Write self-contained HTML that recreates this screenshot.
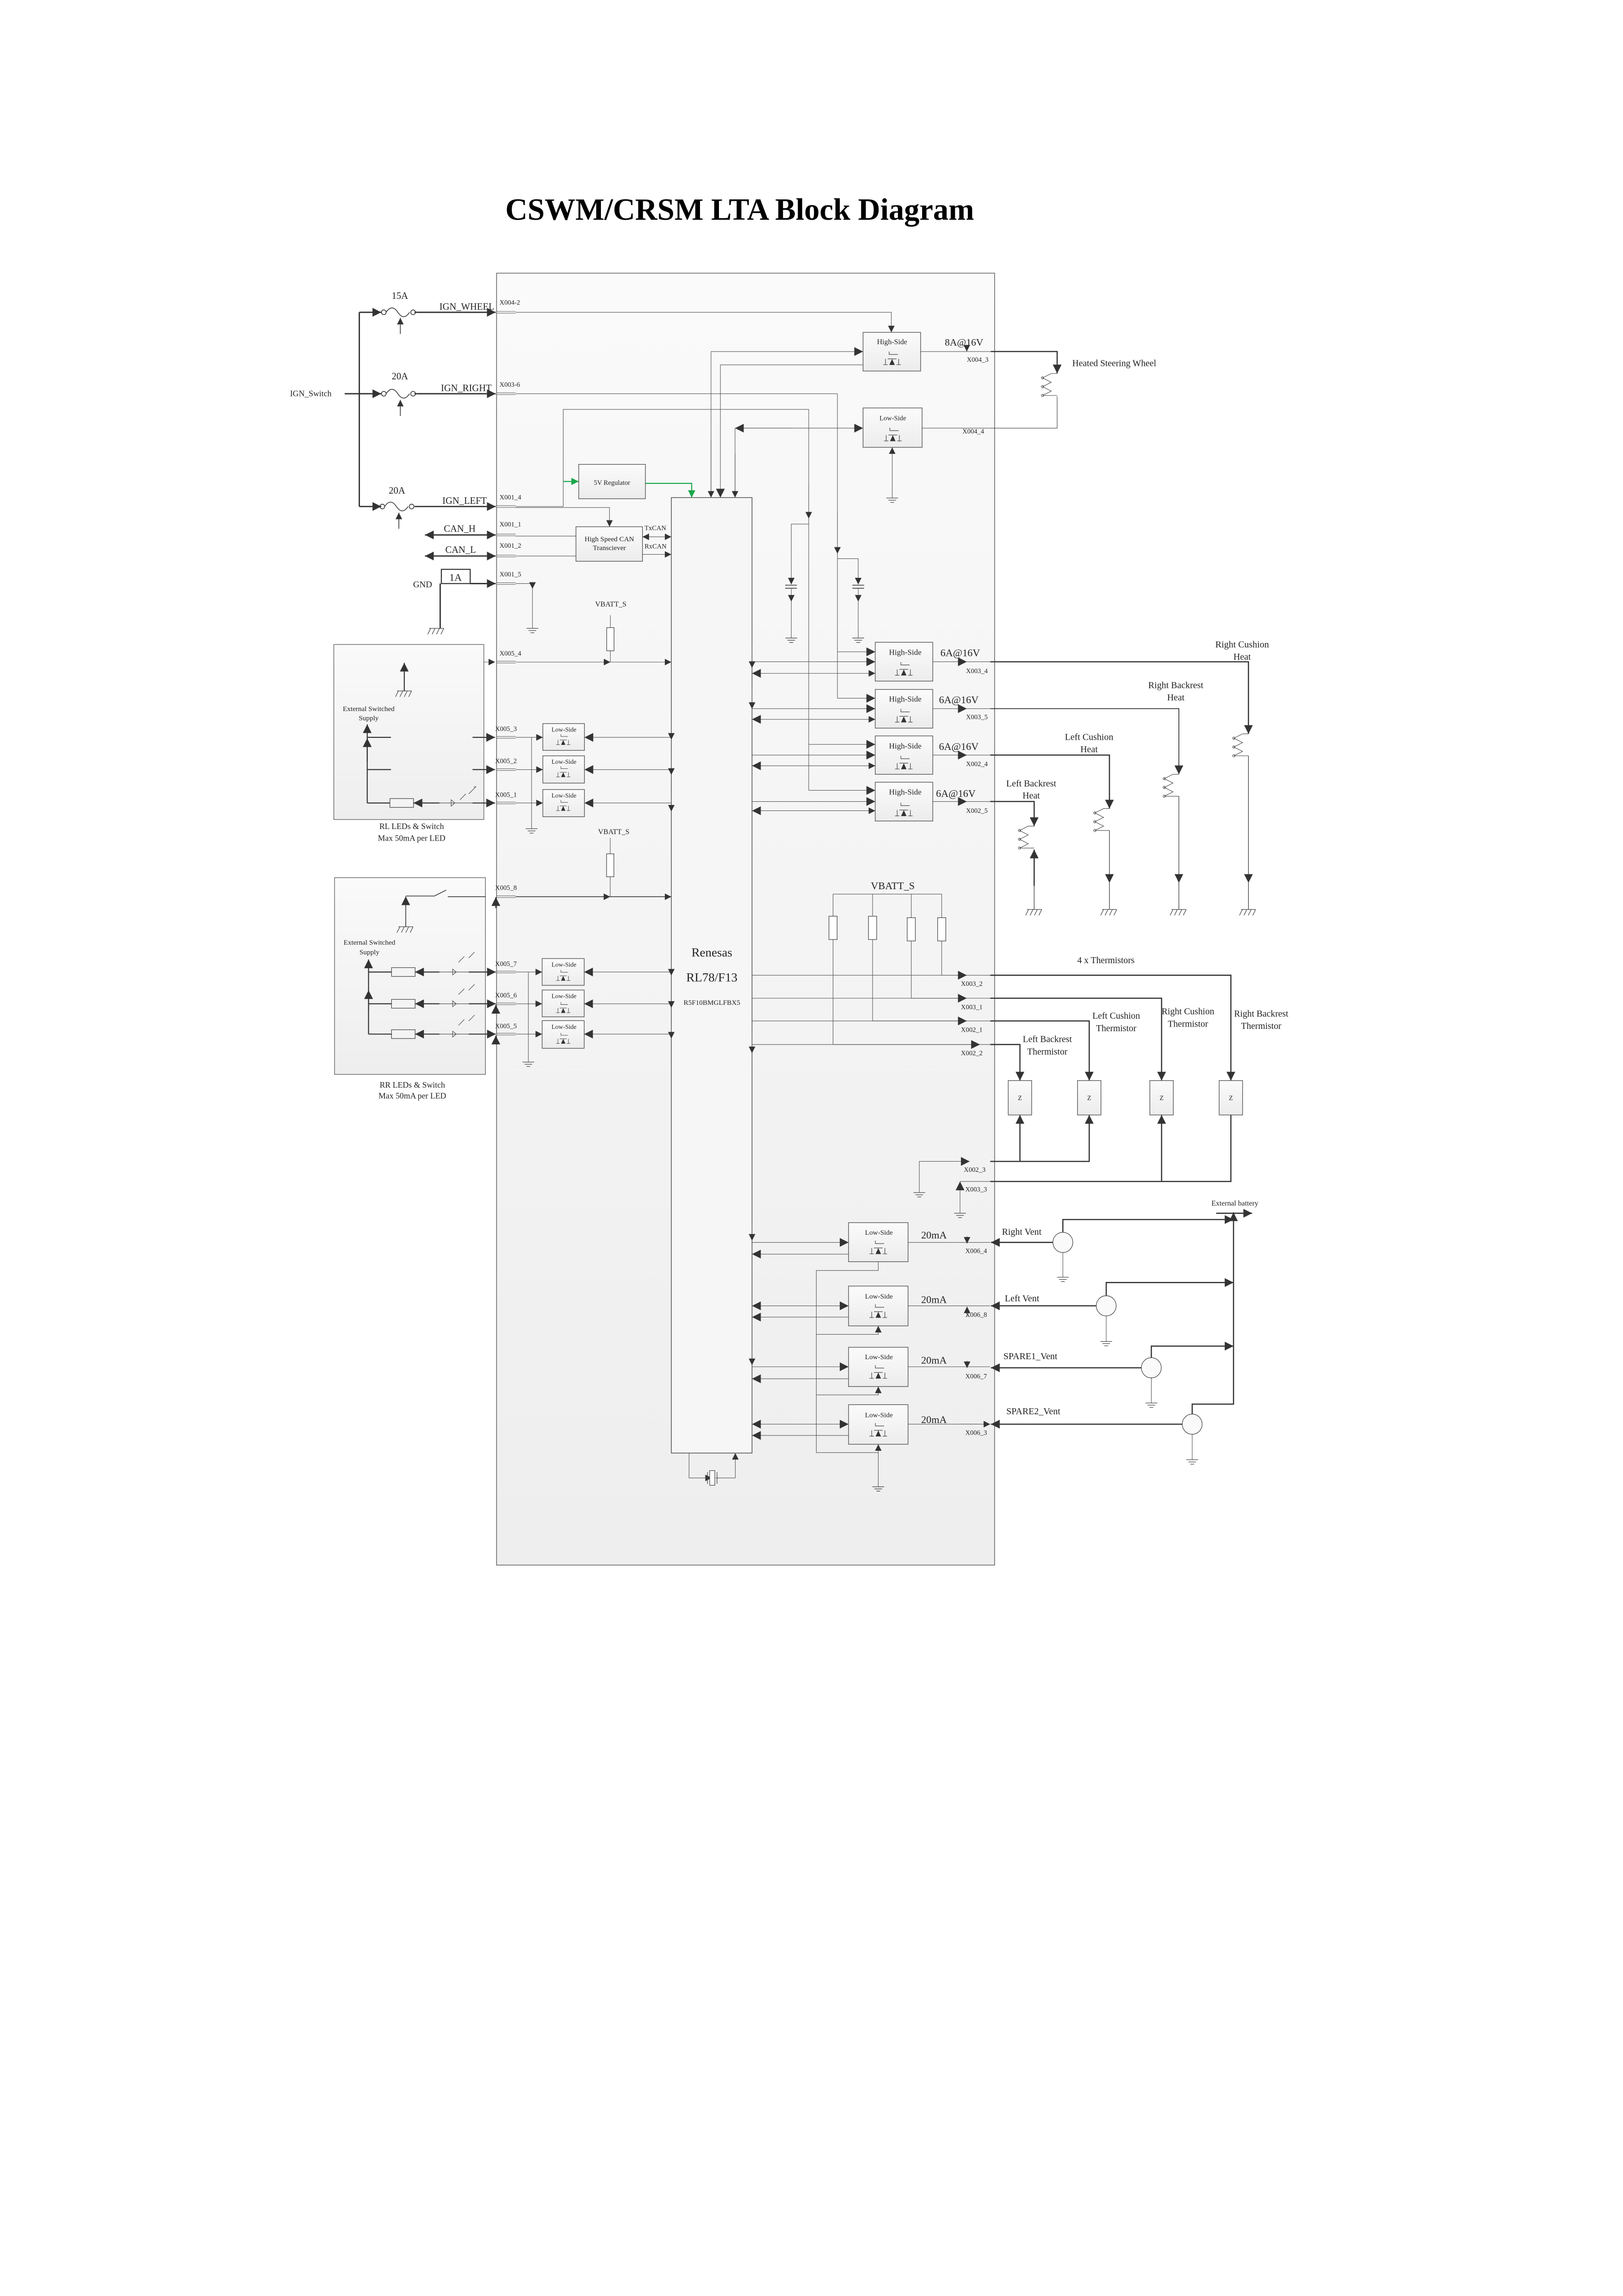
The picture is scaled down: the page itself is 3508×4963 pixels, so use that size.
<!DOCTYPE html>
<html><head><meta charset="utf-8"><style>html,body{margin:0;padding:0;background:#fff}svg{display:block}</style></head>
<body>
<svg xmlns="http://www.w3.org/2000/svg" width="3508" height="4963" viewBox="0 0 1108 1567.5" preserveAspectRatio="none" font-family="'Liberation Serif',serif" fill="none">
<defs>
<linearGradient id="bg" x1="0" y1="0" x2="0" y2="1"><stop offset="0" stop-color="#fafafa"/><stop offset="1" stop-color="#eeeeee"/></linearGradient>
<linearGradient id="bk" x1="0" y1="0" x2="0" y2="1"><stop offset="0" stop-color="#fbfbfb"/><stop offset="1" stop-color="#ececec"/></linearGradient>
<marker id="a" viewBox="0 0 10 10" refX="10" refY="5" markerWidth="4.5" markerHeight="4.5" markerUnits="userSpaceOnUse" orient="auto-start-reverse"><path d="M0,0L10,5L0,10z" fill="#333"/></marker>
<marker id="b" viewBox="0 0 10 10" refX="10" refY="5" markerWidth="6" markerHeight="6" markerUnits="userSpaceOnUse" orient="auto-start-reverse"><path d="M0,0L10,5L0,10z" fill="#333"/></marker>
<marker id="g" viewBox="0 0 10 10" refX="10" refY="5" markerWidth="5" markerHeight="5" markerUnits="userSpaceOnUse" orient="auto"><path d="M0,0L10,5L0,10z" fill="#1aa64a"/></marker>
<g id="gnd" stroke="#444" stroke-width=".4"><path d="M-4,0h8M-2.6,1.5h5.2M-1.3,3h2.6"/></g>
<g id="hat" stroke="#444" stroke-width=".4"><path d="M-5,0h10M-4,0l-2,4M-1,0l-2,4M2,0l-2,4M5,0l-2,4"/></g>
<g id="fet" stroke="#333" stroke-width=".35"><path d="M-2,-6v2h6M-6,3h3M-4.5,-1v4M3,3h3M4.5,-1v4M-3,-1h6"/><path d="M-1.6,3L0,-0.5L1.6,3z" fill="#333"/></g>
<g id="coil" stroke="#444" stroke-width=".35"><path d="M0,0h-4l-6,3l6,3l-6,3l6,3l-6,3h10"/><circle cx="-10" cy="3" r=".8"/><circle cx="-10" cy="9" r=".8"/><circle cx="-10" cy="15" r=".8"/></g>
<g id="fuse" stroke="#333" stroke-width=".5"><circle cx="0" cy="0" r="1.6"/><circle cx="20" cy="0" r="1.6"/><path d="M1.6,0q4,-6 8,0t8,0"/></g>
</defs>

<text x="505" y="150" font-size="21" font-weight="bold" fill="#000" text-anchor="middle" textLength="320" lengthAdjust="spacingAndGlyphs">CSWM/CRSM LTA Block Diagram</text>

<rect x="339" y="186.5" width="340" height="882" fill="url(#bg)" stroke="#666" stroke-width=".5"/>
<rect x="458.3" y="339.7" width="55.1" height="652.3" fill="#f6f6f6" stroke="#444" stroke-width=".45"/>
<text x="486" y="653" font-size="8.5" fill="#222" text-anchor="middle">Renesas</text>
<text x="486" y="670" font-size="8.5" fill="#222" text-anchor="middle">RL78/F13</text>
<text x="486" y="686" font-size="4.8" fill="#222" text-anchor="middle">R5F10BMGLFBX5</text>

<g fill="#222" font-size="6.5">
<text x="273" y="204" text-anchor="middle">15A</text>
<text x="273" y="259" text-anchor="middle">20A</text>
<text x="271" y="337" text-anchor="middle">20A</text>
<text x="300" y="211.5">IGN_WHEEL</text>
<text x="301" y="267">IGN_RIGHT</text>
<text x="302" y="344">IGN_LEFT</text>
<text x="198" y="270.5" font-size="5.6">IGN_Switch</text>
<text x="303" y="363">CAN_H</text>
<text x="304" y="377.5">CAN_L</text>
<text x="282" y="401" font-size="6">GND</text>
<text x="311" y="396.5" text-anchor="middle" font-size="7">1A</text>
</g>
<g fill="#222" font-size="4.6">
<text x="341" y="208">X004-2</text>
<text x="341" y="264">X003-6</text>
<text x="341" y="341">X001_4</text>
<text x="341" y="359.5">X001_1</text>
<text x="341" y="374">X001_2</text>
<text x="341" y="393.5">X001_5</text>
<text x="440" y="362">TxCAN</text>
<text x="440" y="374.5">RxCAN</text>
<text x="341" y="447.5">X005_4</text>
<text x="338" y="499">X005_3</text>
<text x="338" y="521">X005_2</text>
<text x="338" y="544">X005_1</text>
<text x="338" y="607.5">X005_8</text>
<text x="338" y="659.5">X005_7</text>
<text x="338" y="681">X005_6</text>
<text x="338" y="702">X005_5</text>
</g>

<g stroke="#333" stroke-width=".9">
<path d="M245.3,213.2V345.8M235.3,268.8h10"/>
<path d="M245.3,213.2h15" marker-end="url(#b)"/>
<path d="M245.3,268.8h15" marker-end="url(#b)"/>
<path d="M245.3,345.8h15" marker-end="url(#b)"/>
<path d="M283,213.2H338.4" marker-end="url(#b)"/>
<path d="M283,268.8H338.4" marker-end="url(#b)"/>
<path d="M283,345.8H338.4" marker-end="url(#b)"/>
<path d="M273.3,228V217" marker-end="url(#a)" stroke-width=".5"/>
<path d="M273.3,284V273" marker-end="url(#a)" stroke-width=".5"/>
<path d="M272.3,361V350" marker-end="url(#a)" stroke-width=".5"/>
<path d="M290.1,365.2H338.4" marker-start="url(#b)" marker-end="url(#b)"/>
<path d="M290.1,379.6H338.4" marker-start="url(#b)" marker-end="url(#b)"/>
<path d="M300.5,398.4V429M321,398.4H338.4" marker-end="url(#b)"/>
</g>
<use href="#fuse" x="262" y="213.2"/><use href="#fuse" x="262" y="268.8"/><use href="#fuse" x="261" y="345.8"/>
<rect x="301.3" y="388.7" width="19.7" height="9.7" fill="#fff" stroke="#333" stroke-width=".7"/>
<text x="311" y="396.5" text-anchor="middle" font-size="7" fill="#222">1A</text>
<use href="#hat" x="298" y="429"/>

<g stroke="#666" stroke-width=".35">
<path d="M339,212.6h13M339,213.8h13M339,268.2h13M339,269.4h13M339,345.2h13M339,346.4h13M339,364.6h13M339,365.8h13M339,379h13M339,380.2h13M339,397.8h13M339,399h13M339,451.4h13M339,452.6h13"/>
<path d="M339,502.8h13M339,504h13M339,524.8h13M339,526h13M339,547.6h13M339,548.8h13M339,611.6h13M339,612.8h13M339,663h13M339,664.2h13M339,684.7h13M339,685.9h13M339,705.4h13M339,706.6h13"/>
</g>

<g stroke="#555" stroke-width=".35">
<path d="M352,213.2H608.5V226.9" marker-end="url(#a)"/>
<path d="M352,268.8H571.7V476.7"/>
<path d="M571.7,350v28" marker-end="url(#a)"/>
<path d="M571.7,381.4H585.9V399" marker-end="url(#a)"/>
<path d="M352,345.8H384.5V279.5H552.1V539.6"/>
<path d="M552.1,330v24" marker-end="url(#a)"/>
<path d="M552.1,357.8H540.2V399" marker-end="url(#a)"/>
<path d="M540.2,402V410.7" marker-end="url(#a)"/><path d="M585.9,402V410.7" marker-end="url(#a)"/>
<path d="M540.2,410.7V435.6M585.9,410.7V435.6"/>
<path d="M536,399.5h8M536,401.6h8M581.9,399.5h8M581.9,401.6h8" stroke="#333" stroke-width=".5"/>
<path d="M485.4,339.7V240H589.2" marker-end="url(#b)"/>
<path d="M485.4,300V339.7" marker-end="url(#a)"/>
<path d="M589.2,249.1H491.8V339.7" marker-end="url(#b)"/>
<path d="M501.8,339.7V292.3H589.2" marker-end="url(#b)"/>
<path d="M540,292.3H501.8" marker-end="url(#b)"/>
<path d="M501.8,310V339.7" marker-end="url(#a)"/>
<path d="M609.1,340V305.4" marker-end="url(#a)"/>
<path d="M628.5,240H676.4M629.5,292.3H676.4"/>
<path d="M352,346.5H416.1V359.6" marker-end="url(#a)"/>
<path d="M352,366H393.2M352,379.6H393.2"/>
<path d="M438.6,366.5H458.3" marker-start="url(#a)" marker-end="url(#a)"/>
<path d="M438.6,378.5H458.3" marker-end="url(#a)"/>
<path d="M352,398.4H363.5V402" marker-end="url(#a)"/>
<path d="M363.5,402V429"/>
<path d="M416.7,420V452"/>
<path d="M322.6,452H338" marker-end="url(#a)"/>
<path d="M352,452H416.7" marker-end="url(#a)"/>
<path d="M416.7,452H458.3" marker-end="url(#a)"/>
</g>
<use href="#gnd" x="540.2" y="435.6"/><use href="#gnd" x="585.9" y="435.6"/><use href="#gnd" x="609.1" y="340"/><use href="#gnd" x="363.5" y="429"/>
<path d="M384.5,328.7H395" stroke="#1aa64a" stroke-width=".7" marker-end="url(#g)"/>
<path d="M440.6,330H472.2V339.7" stroke="#1aa64a" stroke-width=".7" marker-end="url(#g)"/>
<rect x="395.1" y="317" width="45.5" height="23.5" fill="url(#bk)" stroke="#444" stroke-width=".4"/>
<text x="417.8" y="331" font-size="4.6" fill="#222" text-anchor="middle">5V Regulator</text>
<rect x="393.2" y="359.6" width="45.4" height="23.6" fill="url(#bk)" stroke="#444" stroke-width=".4"/>
<text x="416" y="369.5" font-size="4.8" fill="#222" text-anchor="middle">High Speed CAN</text>
<text x="416" y="375.5" font-size="4.8" fill="#222" text-anchor="middle">Transciever</text>
<text x="417" y="414" font-size="5" fill="#222" text-anchor="middle">VBATT_S</text>
<rect x="414.2" y="428.5" width="5" height="15.8" fill="#fff" stroke="#444" stroke-width=".4"/>

<rect x="589.2" y="226.9" width="39.3" height="26.4" fill="url(#bk)" stroke="#444" stroke-width=".4"/>
<text x="609" y="235" font-size="5" fill="#222" text-anchor="middle">High-Side</text>
<use href="#fet" x="609" y="246"/>
<rect x="589.2" y="278.5" width="40.3" height="26.9" fill="url(#bk)" stroke="#444" stroke-width=".4"/>
<text x="609.5" y="287" font-size="4.6" fill="#222" text-anchor="middle">Low-Side</text>
<use href="#fet" x="609.5" y="298"/>
<text x="645" y="236" font-size="6.8" fill="#222">8A@16V</text>
<text x="660" y="247" font-size="4.6" fill="#222">X004_3</text>
<text x="657" y="296" font-size="4.6" fill="#222">X004_4</text>
<path d="M660,236v4" stroke="#333" stroke-width=".4" marker-end="url(#a)"/>
<g stroke="#333" stroke-width=".8"><path d="M676.4,240H721.7V254.9" marker-end="url(#b)"/></g>
<path d="M721.7,270.6V292.3H676.4" stroke="#555" stroke-width=".4"/>
<use href="#coil" x="721.7" y="255"/>
<text x="732" y="250" font-size="6.2" fill="#222">Heated Steering Wheel</text>

<g stroke="#555" stroke-width=".35">
<path d="M571.7,445H597.5" marker-end="url(#b)"/>
<path d="M571.7,476.7H597.5" marker-end="url(#b)"/>
<path d="M552.1,508.2H597.5" marker-end="url(#b)"/>
<path d="M552.1,539.6H597.5" marker-end="url(#b)"/>
<path d="M513.4,451.8H597.5" marker-end="url(#b)"/>
<path d="M513.4,459.7H597.5" marker-start="url(#b)" marker-end="url(#a)"/>
<path d="M513.4,483.8H597.5" marker-end="url(#b)"/>
<path d="M513.4,491.1H597.5" marker-start="url(#b)" marker-end="url(#a)"/>
<path d="M513.4,515.5H597.5" marker-end="url(#b)"/>
<path d="M513.4,522.8H597.5" marker-start="url(#b)" marker-end="url(#a)"/>
<path d="M513.4,547.2H597.5" marker-end="url(#b)"/>
<path d="M513.4,553.5H597.5" marker-start="url(#b)" marker-end="url(#a)"/>
<path d="M636.8,451.8H660" marker-end="url(#b)"/><path d="M660,451.8H676"/>
<path d="M636.8,483.8H660" marker-end="url(#b)"/><path d="M660,483.8H676"/>
<path d="M636.8,515.5H660" marker-end="url(#b)"/><path d="M660,515.5H676"/>
<path d="M636.8,547.2H660" marker-end="url(#b)"/><path d="M660,547.2H676"/>
<path d="M513.4,440v16" marker-end="url(#a)"/><path d="M513.4,470v14" marker-end="url(#a)"/>
</g>
<g>
<rect x="597.5" y="438.5" width="39.3" height="26.5" fill="url(#bk)" stroke="#444" stroke-width=".4"/>
<rect x="597.5" y="470.7" width="39.3" height="26.4" fill="url(#bk)" stroke="#444" stroke-width=".4"/>
<rect x="597.5" y="502.4" width="39.3" height="26.2" fill="url(#bk)" stroke="#444" stroke-width=".4"/>
<rect x="597.5" y="534" width="39.3" height="26.5" fill="url(#bk)" stroke="#444" stroke-width=".4"/>
</g>
<g font-size="5.4" fill="#222" text-anchor="middle">
<text x="618" y="447">High-Side</text><text x="618" y="479">High-Side</text><text x="618" y="511">High-Side</text><text x="618" y="542.5">High-Side</text>
</g>
<use href="#fet" x="617" y="458"/><use href="#fet" x="617" y="490"/><use href="#fet" x="617" y="522"/><use href="#fet" x="617" y="554"/>
<g font-size="7" fill="#222">
<text x="642" y="448">6A@16V</text><text x="641" y="480">6A@16V</text><text x="641" y="512">6A@16V</text><text x="639" y="544">6A@16V</text>
</g>
<g font-size="4.6" fill="#222">
<text x="659.5" y="459.5">X003_4</text><text x="659.5" y="491">X003_5</text><text x="659.5" y="523">X002_4</text><text x="659.5" y="555">X002_5</text>
</g>
<g stroke="#333" stroke-width=".8">
<path d="M676,451.8H852.3V501" marker-end="url(#b)"/>
<path d="M676,515.5H757.4V552" marker-end="url(#b)"/>
<path d="M676,547.2H706V564" marker-end="url(#b)"/>
<path d="M706,604.8V580" marker-end="url(#b)"/>
</g>
<path d="M676,483.8H804.8V528.6" stroke="#333" stroke-width=".55" marker-end="url(#b)"/>
<use href="#coil" x="852.3" y="501"/><use href="#coil" x="804.8" y="528.6"/><use href="#coil" x="757.4" y="552"/><use href="#coil" x="706" y="564"/>
<g stroke="#333" stroke-width=".4">
<path d="M852.3,516V602.7" marker-end="url(#b)"/>
<path d="M804.8,543.6V602.7" marker-end="url(#b)"/>
<path d="M757.4,567V602.7" marker-end="url(#b)"/>
<path d="M852.3,602.7V620.9M804.8,602.7V620.9M757.4,602.7V620.9M706,604.8V620.9"/>
</g>
<use href="#hat" x="852.2" y="620.9"/><use href="#hat" x="804.8" y="620.9"/><use href="#hat" x="757.4" y="620.9"/><use href="#hat" x="706.2" y="620.9"/>
<g font-size="6.3" fill="#222" text-anchor="middle">
<text x="848" y="442">Right Cushion</text><text x="848" y="450.4">Heat</text>
<text x="802.7" y="469.8">Right Backrest</text><text x="802.7" y="478.2">Heat</text>
<text x="743.5" y="505.2">Left Cushion</text><text x="743.5" y="513.5">Heat</text>
<text x="704" y="536.9">Left Backrest</text><text x="704" y="545.2">Heat</text>
</g>

<rect x="227.9" y="440" width="102.4" height="119.5" fill="url(#bg)" stroke="#666" stroke-width=".45"/>
<text x="251.7" y="485.5" font-size="4.8" fill="#222" text-anchor="middle">External Switched</text>
<text x="251.7" y="491.8" font-size="4.8" fill="#222" text-anchor="middle">Supply</text>
<text x="281" y="566" font-size="5.6" fill="#222" text-anchor="middle">RL LEDs &amp; Switch</text>
<text x="281" y="574" font-size="5.6" fill="#222" text-anchor="middle">Max 50mA per LED</text>
<use href="#hat" x="276" y="471.7"/>
<g stroke="#333" stroke-width=".7">
<path d="M276,471.7V452.5" marker-end="url(#b)"/>
<path d="M250.7,548.2V494.5" marker-end="url(#b)"/>
<path d="M250.7,520V504" marker-end="url(#b)"/>
<path d="M250.7,503.4H266.9M250.7,525.4H266.9M250.7,548.2H266.2"/>
<path d="M322.6,503.4H338" marker-end="url(#b)"/>
<path d="M322.6,525.4H338" marker-end="url(#b)"/>
<path d="M322.6,548.2H338" marker-end="url(#b)"/>
<path d="M300,548.2H282.3" marker-end="url(#b)"/>
</g>
<rect x="266.2" y="545.2" width="16.1" height="6" fill="#f4f4f4" stroke="#444" stroke-width=".4"/>
<g stroke="#444" stroke-width=".35"><path d="M300,548.2h30M308,546v4.4l2.5,-2.2zM320,542l5,-5M325,537l-1.5,.3M314,546l4,-4"/></g>
<g stroke="#555" stroke-width=".35">
<path d="M352,503.4H370.6" marker-end="url(#a)"/>
<path d="M352,525.4H370.6" marker-end="url(#a)"/>
<path d="M352,548.2H370.6" marker-end="url(#a)"/>
<path d="M458.3,503.4H399" marker-end="url(#b)"/>
<path d="M458.3,525.4H399" marker-end="url(#b)"/>
<path d="M458.3,548.2H399" marker-end="url(#b)"/>
<path d="M362.9,503.4V565.8"/>
<path d="M458.3,490v15" marker-end="url(#a)"/><path d="M458.3,515v14" marker-end="url(#a)"/><path d="M458.3,540v14" marker-end="url(#a)"/>
</g>
<use href="#gnd" x="362.9" y="565.8"/>
<rect x="370.6" y="494" width="28.4" height="18.3" fill="url(#bk)" stroke="#444" stroke-width=".4"/>
<rect x="370.6" y="516" width="28.4" height="18.6" fill="url(#bk)" stroke="#444" stroke-width=".4"/>
<rect x="370.6" y="539" width="28.4" height="18.6" fill="url(#bk)" stroke="#444" stroke-width=".4"/>
<use href="#fet" x="384.5" y="506" transform="translate(384.5 506) scale(.8) translate(-384.5 -506)"/>
<use href="#fet" x="384.5" y="528" transform="translate(384.5 528) scale(.8) translate(-384.5 -528)"/>
<use href="#fet" x="384.5" y="551" transform="translate(384.5 551) scale(.8) translate(-384.5 -551)"/>

<text x="419" y="569.5" font-size="5" fill="#222" text-anchor="middle">VBATT_S</text>
<path d="M416.6,572V612.2" stroke="#555" stroke-width=".35"/>
<rect x="414.1" y="582.9" width="5" height="15.7" fill="#fff" stroke="#444" stroke-width=".4"/>
<path d="M352,612.2H416.6" stroke="#333" stroke-width=".5" marker-end="url(#a)"/>
<path d="M416.6,612.2H458.3" stroke="#333" stroke-width=".5" marker-end="url(#a)"/>

<rect x="228.4" y="599.2" width="103" height="134.3" fill="url(#bg)" stroke="#666" stroke-width=".45"/>
<text x="252.2" y="645" font-size="4.8" fill="#222" text-anchor="middle">External Switched</text>
<text x="252.2" y="651.5" font-size="4.8" fill="#222" text-anchor="middle">Supply</text>
<text x="281.5" y="742.5" font-size="5.6" fill="#222" text-anchor="middle">RR LEDs &amp; Switch</text>
<text x="281.5" y="750" font-size="5.6" fill="#222" text-anchor="middle">Max 50mA per LED</text>
<use href="#hat" x="277" y="632.7"/>
<g stroke="#333" stroke-width=".5">
<path d="M277,632.7V612" marker-end="url(#b)"/>
<path d="M277,611.7H296.6l8,-4M305.7,612.2H331.4"/>
</g>
<g stroke="#333" stroke-width=".7">
<path d="M251.6,706V655" marker-end="url(#b)"/>
<path d="M251.6,690V676" marker-end="url(#b)"/>
<path d="M251.6,663.6H267.3M251.6,685.3H267.3M251.6,706H267.3"/>
<path d="M300,663.6H283.4" marker-end="url(#b)"/>
<path d="M300,685.3H283.4" marker-end="url(#b)"/>
<path d="M300,706H283.4" marker-end="url(#b)"/>
<path d="M320,663.6H338.5" marker-end="url(#b)"/>
<path d="M320,685.3H338.5" marker-end="url(#b)"/>
<path d="M320,706H338.5" marker-end="url(#b)"/>
<path d="M338.5,620V612.5" marker-end="url(#b)"/>
<path d="M338.5,690V686" marker-end="url(#b)"/>
<path d="M338.5,712V707" marker-end="url(#b)"/>
</g>
<g fill="#f4f4f4" stroke="#444" stroke-width=".4">
<rect x="267.3" y="660.6" width="16.1" height="6"/><rect x="267.3" y="682.3" width="16.1" height="6"/><rect x="267.3" y="703" width="16.1" height="6"/>
</g>
<g stroke="#444" stroke-width=".35"><path d="M300,663.6h20M300,685.3h20M300,706h20M309,661.6v4l2.5,-2zM309,683.3v4l2.5,-2zM309,704v4l2.5,-2zM313,657l4,-4M320,654l4,-4M313,679l4,-4M320,676l4,-4M313,700l4,-4M320,697l4,-4"/></g>
<g stroke="#555" stroke-width=".35">
<path d="M352,663.6H370.1" marker-end="url(#a)"/>
<path d="M352,685.3H370.1" marker-end="url(#a)"/>
<path d="M352,706H370.1" marker-end="url(#a)"/>
<path d="M458.3,663.6H398.8" marker-end="url(#b)"/>
<path d="M458.3,685.3H398.8" marker-end="url(#b)"/>
<path d="M458.3,706H398.8" marker-end="url(#b)"/>
<path d="M360.7,663.6V725.1"/>
<path d="M458.3,655v11" marker-end="url(#a)"/><path d="M458.3,678v10" marker-end="url(#a)"/><path d="M458.3,699v10" marker-end="url(#a)"/>
</g>
<use href="#gnd" x="360.7" y="725.1"/>
<rect x="370.1" y="654.4" width="28.7" height="18.3" fill="url(#bk)" stroke="#444" stroke-width=".4"/>
<rect x="370.1" y="675.9" width="28.7" height="18.3" fill="url(#bk)" stroke="#444" stroke-width=".4"/>
<rect x="370.1" y="696.8" width="28.7" height="18.9" fill="url(#bk)" stroke="#444" stroke-width=".4"/>
<use href="#fet" x="384.5" y="667" transform="translate(384.5 667) scale(.8) translate(-384.5 -667)"/>
<use href="#fet" x="384.5" y="689" transform="translate(384.5 689) scale(.8) translate(-384.5 -689)"/>
<use href="#fet" x="384.5" y="710" transform="translate(384.5 710) scale(.8) translate(-384.5 -710)"/>
<g font-size="4.3" fill="#222" text-anchor="middle"><text x="385" y="499.5">Low-Side</text><text x="385" y="521.5">Low-Side</text><text x="385" y="544.5">Low-Side</text>
<text x="385" y="660">Low-Side</text><text x="385" y="681.5">Low-Side</text><text x="385" y="702.5">Low-Side</text></g>

<text x="609.5" y="607" font-size="7" fill="#222" text-anchor="middle">VBATT_S</text>
<g stroke="#555" stroke-width=".35">
<path d="M568.7,610.4H642.9M568.7,610.4V713.1M595.7,610.4V697M622.1,610.4V681.5M642.9,610.4V665.8"/>
<path d="M513.4,665.8H676M513.4,681.5H676M513.4,697H676M513.4,713.1H676"/>
<path d="M642.9,665.8H660" marker-end="url(#b)"/>
<path d="M622.1,681.5H660" marker-end="url(#b)"/>
<path d="M595.7,697H660" marker-end="url(#b)"/>
<path d="M568.7,713.1H669" marker-end="url(#b)"/>
<path d="M513.4,705v14" marker-end="url(#a)"/>
</g>
<g fill="#fff" stroke="#444" stroke-width=".4">
<rect x="565.9" y="625.5" width="5.6" height="15.9"/><rect x="592.9" y="625.5" width="5.6" height="15.9"/><rect x="619.3" y="626.5" width="5.6" height="15.9"/><rect x="640.1" y="626.5" width="5.6" height="15.9"/>
</g>
<g font-size="4.6" fill="#222">
<text x="656" y="673">X003_2</text><text x="656" y="689">X003_1</text><text x="656" y="704.5">X002_1</text><text x="656" y="720.5">X002_2</text>
<text x="658" y="800">X002_3</text><text x="659" y="813.5">X003_3</text>
</g>
<g stroke="#333" stroke-width=".8">
<path d="M676,665.8H840.3V737.7" marker-end="url(#b)"/>
<path d="M676,681.5H793V737.7" marker-end="url(#b)"/>
<path d="M676,697H743.6V737.7" marker-end="url(#b)"/>
<path d="M676,713.1H696.3V737.7" marker-end="url(#b)"/>
<path d="M676,792.9H743.6V761.2" marker-end="url(#b)"/>
<path d="M696.3,792.9V761.2" marker-end="url(#b)"/>
<path d="M840.3,761.2V806.6H676"/>
<path d="M793,806.6V761.2" marker-end="url(#b)"/>
</g>
<g fill="url(#bk)" stroke="#444" stroke-width=".4">
<rect x="688.3" y="737.7" width="16" height="23.5"/><rect x="735.6" y="737.7" width="16" height="23.5"/><rect x="785" y="737.7" width="16" height="23.5"/><rect x="832.3" y="737.7" width="16" height="23.5"/>
</g>
<g font-size="4.5" fill="#222" text-anchor="middle"><text x="696.3" y="751">Z</text><text x="743.6" y="751">Z</text><text x="793" y="751">Z</text><text x="840.3" y="751">Z</text></g>
<g font-size="6.2" fill="#222" text-anchor="middle">
<text x="755" y="657.5">4 x Thermistors</text>
<text x="715" y="711.5">Left Backrest</text><text x="715" y="720">Thermistor</text>
<text x="762" y="695.5">Left Cushion</text><text x="762" y="704">Thermistor</text>
<text x="811" y="692.5">Right Cushion</text><text x="811" y="701">Thermistor</text>
<text x="861" y="694">Right Backrest</text><text x="861" y="702.5">Thermistor</text>
</g>
<g stroke="#555" stroke-width=".35">
<path d="M627.6,814.2V792.9H662" marker-end="url(#b)"/>
<path d="M655.4,828.3V806.6" marker-end="url(#b)"/>
<path d="M655.4,806.6H676"/>
</g>
<use href="#gnd" x="627.6" y="814.2"/><use href="#gnd" x="655.4" y="828.3"/>

<g stroke="#555" stroke-width=".35">
<path d="M513.4,848.2H579.3" marker-end="url(#b)"/>
<path d="M579.3,856.2H513.4" marker-end="url(#b)"/>
<path d="M513.4,891.5H579.3" marker-start="url(#b)" marker-end="url(#b)"/>
<path d="M579.3,899.2H513.4" marker-end="url(#b)"/>
<path d="M513.4,933.1H579.3" marker-end="url(#b)"/>
<path d="M579.3,941.3H513.4" marker-end="url(#b)"/>
<path d="M513.4,972.3H579.3" marker-start="url(#b)" marker-end="url(#b)"/>
<path d="M579.3,980H513.4" marker-end="url(#b)"/>
<path d="M513.4,835v12" marker-end="url(#a)"/><path d="M513.4,920v12" marker-end="url(#a)"/>
<path d="M599.6,861.4V867.4H557.3V991.7H599.6"/>
<path d="M557.3,911H599.6V905.2" marker-end="url(#a)"/>
<path d="M557.3,952.3H599.6V946.6" marker-end="url(#a)"/>
<path d="M599.6,1015V986" marker-end="url(#a)"/>
<path d="M619.9,848.2H676M619.9,891.5H676M619.9,933.1H676M619.9,972.3H668"/>
<path d="M660.2,844v5" marker-end="url(#a)"/><path d="M660.2,929v5" marker-end="url(#a)"/><path d="M660.2,899v-7" marker-end="url(#a)"/>
<path d="M655,972.3h21" marker-end="url(#a)"/>
<path d="M470.4,992V1009H486" marker-end="url(#a)"/>
<path d="M502,1009V992" marker-end="url(#a)"/>
<path d="M488.5,1009H502"/>
</g>
<rect x="484.5" y="1004" width="3.5" height="10" fill="#fff" stroke="#444" stroke-width=".4"/>
<path d="M483,1005v8M489.5,1005v8" stroke="#444" stroke-width=".4"/>
<use href="#gnd" x="599.6" y="1015"/>
<g fill="url(#bk)" stroke="#444" stroke-width=".4">
<rect x="579.3" y="834.7" width="40.6" height="26.7"/><rect x="579.3" y="878" width="40.6" height="27.2"/><rect x="579.3" y="919.8" width="40.6" height="26.8"/><rect x="579.3" y="959" width="40.6" height="27"/>
</g>
<g font-size="4.8" fill="#222" text-anchor="middle">
<text x="600" y="843">Low-Side</text><text x="600" y="886.5">Low-Side</text><text x="600" y="928">Low-Side</text><text x="600" y="967.5">Low-Side</text>
</g>
<use href="#fet" x="599.6" y="853"/><use href="#fet" x="599.6" y="896.5"/><use href="#fet" x="599.6" y="938"/><use href="#fet" x="599.6" y="977.5"/>
<g font-size="7" fill="#222" text-anchor="middle">
<text x="637.6" y="845.5">20mA</text><text x="637.6" y="889.5">20mA</text><text x="637.6" y="931">20mA</text><text x="637.6" y="971.5">20mA</text>
</g>
<g font-size="4.6" fill="#222">
<text x="659" y="855.5">X006_4</text><text x="659" y="899">X006_8</text><text x="659" y="941">X006_7</text><text x="659" y="979.5">X006_3</text>
</g>
<g stroke="#333" stroke-width=".8">
<path d="M718.8,848.2H676.5" marker-end="url(#b)"/>
<path d="M748.4,891.5H676.5" marker-end="url(#b)"/>
<path d="M779.2,933.8H676.5" marker-end="url(#b)"/>
<path d="M807.1,972.3H676.5" marker-end="url(#b)"/>
<path d="M725.6,841.3V832.6H842.1" marker-end="url(#b)"/>
<path d="M755.2,884.6V875.6H842.1" marker-end="url(#b)"/>
<path d="M786,926.9V919H842.1" marker-end="url(#b)"/>
<path d="M813.9,965.4V958.6H842.1V827.7" marker-end="url(#b)"/>
<path d="M830.3,828.3H854.8" marker-end="url(#b)"/>
</g>
<g stroke="#555" stroke-width=".35"><path d="M725.6,855.1V872M755.2,898.4V915.8M786,940.7V957.8M813.9,979.2V996.6"/></g>
<use href="#gnd" x="725.6" y="872"/><use href="#gnd" x="755.2" y="915.8"/><use href="#gnd" x="786" y="957.8"/><use href="#gnd" x="813.9" y="996.6"/>
<g fill="#fafafa" stroke="#444" stroke-width=".4">
<ellipse cx="725.6" cy="848.2" rx="6.8" ry="6.9"/><ellipse cx="755.2" cy="891.5" rx="6.8" ry="6.9"/><ellipse cx="786" cy="933.8" rx="6.8" ry="6.9"/><ellipse cx="813.9" cy="972.3" rx="6.8" ry="6.9"/>
</g>
<g font-size="6.3" fill="#222">
<text x="684" y="843">Right Vent</text><text x="686" y="888.5">Left Vent</text><text x="685" y="928">SPARE1_Vent</text><text x="687" y="965.5">SPARE2_Vent</text>
<text x="827" y="823" font-size="5">External battery</text>
</g>
</svg>
</body></html>
